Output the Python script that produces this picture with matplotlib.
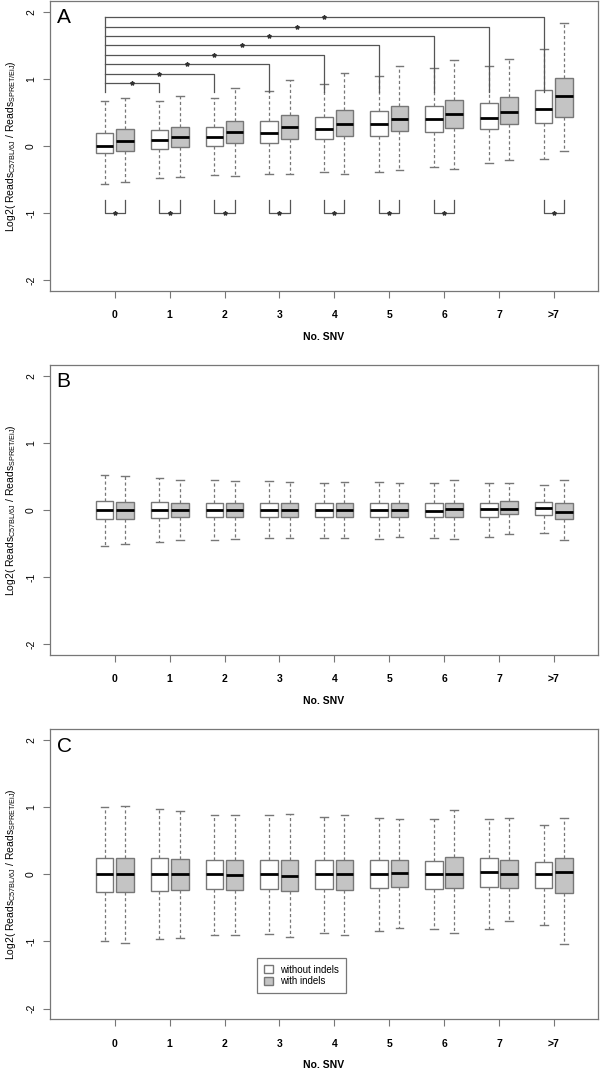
import numpy as np
import matplotlib
matplotlib.use('Agg')
import matplotlib.pyplot as plt
from matplotlib.patches import Patch

plt.rcParams['font.family'] = ['Liberation Sans', 'DejaVu Sans']
plt.rcParams['mathtext.fontset'] = 'custom'
plt.rcParams['mathtext.rm'] = 'Liberation Sans'

categories = ['0', '1', '2', '3', '4', '5', '6', '7', '>7']

# panel A: [whislo, q1, med, q3, whishi] per group
a_without = [[-0.57, -0.11, 0.00, 0.20, 0.67],
             [-0.48, -0.05, 0.09, 0.24, 0.67],
             [-0.43, 0.00, 0.14, 0.29, 0.72],
             [-0.41, 0.05, 0.20, 0.37, 0.82],
             [-0.39, 0.10, 0.26, 0.43, 0.92],
             [-0.38, 0.15, 0.33, 0.52, 1.05],
             [-0.31, 0.21, 0.40, 0.60, 1.17],
             [-0.25, 0.26, 0.42, 0.64, 1.20],
             [-0.20, 0.35, 0.55, 0.84, 1.45]]
a_with = [[-0.54, -0.07, 0.08, 0.25, 0.71],
          [-0.46, -0.01, 0.14, 0.29, 0.75],
          [-0.44, 0.04, 0.21, 0.38, 0.87],
          [-0.41, 0.11, 0.28, 0.47, 0.98],
          [-0.41, 0.15, 0.33, 0.53, 1.09],
          [-0.36, 0.22, 0.41, 0.60, 1.20],
          [-0.34, 0.27, 0.48, 0.69, 1.28],
          [-0.21, 0.33, 0.51, 0.73, 1.30],
          [-0.07, 0.43, 0.74, 1.01, 1.83]]

b_without = [[-0.53, -0.14, 0.00, 0.13, 0.52],
             [-0.48, -0.12, 0.00, 0.12, 0.48],
             [-0.45, -0.11, 0.00, 0.11, 0.44],
             [-0.42, -0.11, 0.00, 0.10, 0.43],
             [-0.42, -0.11, 0.00, 0.10, 0.41],
             [-0.43, -0.11, 0.00, 0.11, 0.42],
             [-0.41, -0.11, -0.015, 0.10, 0.41],
             [-0.40, -0.10, 0.02, 0.10, 0.40],
             [-0.34, -0.08, 0.025, 0.12, 0.37]]
b_with = [[-0.51, -0.13, 0.00, 0.12, 0.50],
          [-0.45, -0.11, 0.00, 0.11, 0.45],
          [-0.43, -0.11, 0.00, 0.11, 0.43],
          [-0.42, -0.10, 0.00, 0.10, 0.42],
          [-0.41, -0.11, 0.005, 0.11, 0.42],
          [-0.40, -0.10, 0.00, 0.10, 0.40],
          [-0.43, -0.11, 0.015, 0.11, 0.44],
          [-0.35, -0.065, 0.02, 0.14, 0.40],
          [-0.45, -0.14, -0.025, 0.10, 0.44]]

c_without = [[-1.00, -0.26, 0.00, 0.25, 1.00],
             [-0.97, -0.25, 0.00, 0.24, 0.97],
             [-0.90, -0.22, 0.00, 0.22, 0.89],
             [-0.89, -0.22, 0.00, 0.22, 0.88],
             [-0.87, -0.22, 0.00, 0.21, 0.86],
             [-0.84, -0.20, 0.00, 0.21, 0.84],
             [-0.81, -0.22, 0.00, 0.20, 0.83],
             [-0.81, -0.19, 0.035, 0.24, 0.83],
             [-0.76, -0.20, 0.00, 0.19, 0.73]]
c_with = [[-1.03, -0.26, 0.00, 0.25, 1.02],
          [-0.95, -0.24, 0.00, 0.23, 0.94],
          [-0.91, -0.24, -0.01, 0.21, 0.88],
          [-0.94, -0.25, -0.02, 0.21, 0.90],
          [-0.91, -0.23, 0.00, 0.22, 0.89],
          [-0.80, -0.19, 0.015, 0.22, 0.83],
          [-0.87, -0.21, 0.00, 0.26, 0.96],
          [-0.70, -0.20, 0.00, 0.22, 0.84],
          [-1.04, -0.28, 0.035, 0.25, 0.84]]

# significance: group 0 vs each group (top), within-group pairs (bottom)
top_sig_levels = [0.94, 1.08, 1.22, 1.36, 1.50, 1.64, 1.77, 1.92]
bracket_base = 0.8
pair_sig_groups = [0, 1, 2, 3, 4, 5, 6, 8]
pair_sig_y = -1.0
pair_sig_base = -0.8

panel_labels = ['A', 'B', 'C']
panels = [(a_without, a_with), (b_without, b_with), (c_without, c_with)]

edge = '#777777'
gray_fill = '#c4c4c4'
off = 0.185
bw = 0.32


def stats(rows):
    out = []
    for r in rows:
        out.append(dict(whislo=r[0], q1=r[1], med=r[2], q3=r[3], whishi=r[4], fliers=[]))
    return out


fig = plt.figure(figsize=(6, 10.68), dpi=100)
bottoms = [0.7275, 0.3867, 0.0456]
axes = []
for k, (wo, wi) in enumerate(panels):
    ax = fig.add_axes([0.0833, bottoms[k], 0.913, 0.2715])
    axes.append(ax)
    pos = np.arange(len(categories))
    for rows, shift, fc in [(wo, -off, 'white'), (wi, off, gray_fill)]:
        ax.bxp(stats(rows), positions=pos + shift, widths=bw, capwidths=0.14,
               patch_artist=True, showfliers=False,
               boxprops=dict(facecolor=fc, edgecolor=edge, linewidth=1.0),
               medianprops=dict(color='black', linewidth=2.0),
               whiskerprops=dict(color=edge, linestyle=(0, (2.5, 2)), linewidth=0.9),
               capprops=dict(color=edge, linewidth=1.0))
    ax.set_xlim(-1.18, 8.8)
    ax.set_ylim(-2.16, 2.16)
    ax.set_xticks(pos)
    ax.set_xticklabels(categories, fontweight='bold', fontsize=7.5)
    ax.set_yticks([-2, -1, 0, 1, 2])
    ax.set_yticklabels(['-2', '-1', '0', '1', '2'], rotation=90, va='center', fontsize=7.5)
    ax.tick_params(direction='out', length=5, color=edge, width=0.8)
    ax.tick_params(axis='x', pad=9)
    ax.tick_params(axis='y', pad=5)
    for s in ax.spines.values():
        s.set_color(edge)
        s.set_linewidth(0.9)
    ax.set_xlabel('No. SNV', fontweight='bold', fontsize=7.5, labelpad=8)
    ax.set_ylabel(r'Log2( Reads$_{\mathrm{C57BL/6J}}$ / Reads$_{\mathrm{SPRET/EiJ}}$)',
                  fontsize=7.5)
    ax.yaxis.set_label_coords(-0.058, 0.5)
    ax.text(0.012, 0.975, panel_labels[k], transform=ax.transAxes, fontsize=15,
            va='top', ha='left')

# significance brackets on panel A
ax = axes[0]
line_c = '#555555'
x0 = 0 - off
ax.plot([x0, x0], [bracket_base, top_sig_levels[-1]], color=line_c, lw=0.9)
for g, lev in enumerate(top_sig_levels, start=1):
    xg = g - off
    ax.plot([x0, xg, xg], [lev, lev, bracket_base], color=line_c, lw=0.9)
    ax.plot([(x0 + xg) / 2], [lev], marker='*', ms=3, color='#333333', lw=0)
for g in pair_sig_groups:
    ax.plot([g - off, g - off, g + off, g + off],
            [pair_sig_base, pair_sig_y, pair_sig_y, pair_sig_base], color=line_c, lw=0.9)
    ax.plot([g], [pair_sig_y], marker='*', ms=3, color='#333333', lw=0)

# legend on panel C
handles = [Patch(facecolor='white', edgecolor=edge, label='without indels'),
           Patch(facecolor=gray_fill, edgecolor=edge, label='with indels')]
leg = axes[2].legend(handles=handles, loc='lower left', bbox_to_anchor=(0.369, 0.073),
                     fontsize=7, fancybox=False, framealpha=1, edgecolor=edge,
                     handlelength=0.9, handleheight=0.9, handletextpad=0.8,
                     borderpad=0.7, labelspacing=0.2)
leg.get_frame().set_linewidth(0.9)

fig.savefig('out.png', dpi=100)
